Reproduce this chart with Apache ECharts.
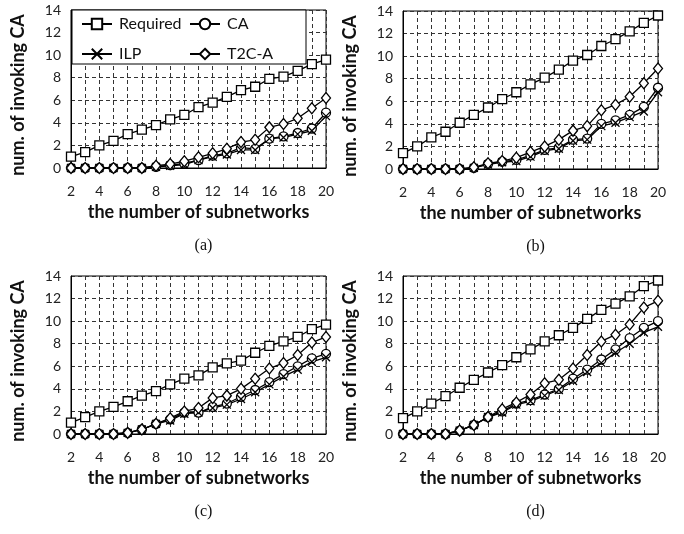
<!DOCTYPE html>
<html>
<head>
<meta charset="utf-8">
<title>num. of invoking CA</title>
<script src="https://cdn.jsdelivr.net/npm/echarts@6/dist/echarts.min.js"></script>
<style>
    html, body { margin: 0; padding: 0; background: #fff; }
    #chart { width: 684px; height: 534px; }
</style>
</head>
<body>
<div id="chart"></div>
<script>
// x: the number of subnetworks
const subnetworks = [2, 3, 4, 5, 6, 7, 8, 9, 10, 11, 12, 13, 14, 15, 16, 17, 18, 19, 20]
const yTicks = [0, 2, 4, 6, 8, 10, 12, 14]
const seriesNames = ['Required', 'CA', 'ILP', 'T2C-A']
const panelLabels = ['(a)', '(b)', '(c)', '(d)']

// (a)
const requiredA = [1.0, 1.4, 2.0, 2.4, 3.0, 3.4, 3.8, 4.3, 4.7, 5.4, 5.8, 6.3, 6.9, 7.2, 7.9, 8.1, 8.6, 9.2, 9.6]
const caA = [0, 0, 0, 0, 0, 0, 0.1, 0.25, 0.4, 0.7, 1.1, 1.3, 1.8, 1.7, 2.6, 2.8, 3.1, 3.5, 4.9]
const ilpA = [0, 0, 0, 0, 0, 0, 0.1, 0.2, 0.3, 0.7, 1.0, 1.2, 1.6, 1.6, 2.6, 2.7, 3.0, 3.3, 4.6]
const t2caA = [0, 0, 0, 0, 0, 0, 0.2, 0.35, 0.6, 0.95, 1.3, 1.7, 2.3, 2.5, 3.6, 3.9, 4.4, 5.3, 6.2]
// (b)
const requiredB = [1.4, 2.0, 2.8, 3.3, 4.1, 4.8, 5.45, 6.2, 6.8, 7.5, 8.1, 8.8, 9.6, 10.1, 10.9, 11.5, 12.2, 12.95, 13.6]
const caB = [0, 0, 0, 0, 0, 0.1, 0.45, 0.65, 0.8, 1.2, 1.7, 1.9, 2.6, 2.7, 4.0, 4.3, 4.8, 5.5, 7.2]
const ilpB = [0, 0, 0, 0, 0, 0.1, 0.4, 0.6, 0.7, 1.1, 1.6, 1.8, 2.5, 2.6, 3.8, 4.1, 4.6, 5.1, 6.8]
const t2caB = [0, 0, 0, 0, 0, 0.15, 0.5, 0.7, 1.0, 1.5, 2.0, 2.6, 3.4, 3.8, 5.2, 5.7, 6.4, 7.6, 8.9]
// (c)
const requiredC = [1.0, 1.5, 2.0, 2.4, 2.9, 3.4, 3.8, 4.4, 4.9, 5.2, 5.9, 6.25, 6.5, 7.2, 7.8, 8.2, 8.6, 9.3, 9.7]
const caC = [0, 0, 0, 0, 0.1, 0.4, 0.9, 1.3, 1.9, 1.9, 2.4, 2.7, 3.3, 3.9, 4.6, 5.3, 6.0, 6.7, 7.1]
const ilpC = [0, 0, 0, 0, 0.1, 0.4, 0.9, 1.2, 1.8, 1.9, 2.3, 2.6, 3.1, 3.7, 4.4, 5.1, 5.7, 6.4, 6.8]
const t2caC = [0, 0, 0, 0, 0.1, 0.4, 0.9, 1.4, 2.0, 2.3, 3.2, 3.4, 4.0, 4.9, 5.8, 6.3, 7.0, 8.1, 8.6]
// (d)
const requiredD = [1.4, 2.0, 2.7, 3.35, 4.1, 4.8, 5.45, 6.1, 6.8, 7.5, 8.2, 8.75, 9.4, 10.2, 11.0, 11.55, 12.2, 13.1, 13.6]
const caD = [0, 0, 0, 0, 0.3, 0.8, 1.5, 2.0, 2.7, 3.0, 3.5, 4.0, 4.9, 5.7, 6.6, 7.5, 8.5, 9.4, 10.0]
const ilpD = [0, 0, 0, 0, 0.3, 0.8, 1.5, 1.9, 2.6, 2.9, 3.4, 3.9, 4.7, 5.5, 6.3, 7.2, 8.0, 9.0, 9.5]
const t2caD = [0, 0, 0, 0, 0.3, 0.8, 1.5, 2.2, 2.8, 3.5, 4.5, 4.8, 5.8, 7.0, 8.2, 8.8, 9.7, 11.2, 11.8]

const panelData = [
    [requiredA, caA, ilpA, t2caA],
    [requiredB, caB, ilpB, t2caB],
    [requiredC, caC, ilpC, t2caC],
    [requiredD, caD, ilpD, t2caD]
]

const font = 'Lato, "Open Sans", sans-serif'
// plot boxes (left, top) of the four panels
const boxes = [
    { left: 71, top: 10 },
    { left: 403, top: 11 },
    { left: 71, top: 276 },
    { left: 403, top: 276 }
]
const boxW = 255
const boxH = 158

const symbols = [
    { symbol: 'rect', size: 9 },
    { symbol: 'circle', size: 9 },
    { symbol: 'path://M0,0L10,10M10,0L0,10', size: 8 },
    { symbol: 'diamond', size: [9, 11] }
]

const grid = [], xAxis = [], yAxis = [], series = [], title = []
boxes.forEach((b, i) => {
    grid.push({
        left: b.left, top: b.top, width: boxW, height: boxH,
        show: true, borderColor: '#000', borderWidth: 1, backgroundColor: '#fff'
    })
    xAxis.push({
        type: 'value', gridIndex: i, min: 2, max: 20, interval: 1,
        name: 'the number of subnetworks', nameLocation: 'middle', nameGap: 35,
        nameTextStyle: { fontFamily: font, fontSize: 18, fontWeight: 'bold', color: '#111' },
        axisLine: { lineStyle: { color: '#000', width: 1 } },
        axisTick: { show: false },
        axisLabel: {
            margin: 16, fontFamily: font, fontSize: 14, color: '#222',
            formatter: v => (v % 2 === 0 ? String(v) : '')
        },
        splitLine: { show: true, lineStyle: { color: '#333', type: [4, 3], width: 1 } }
    })
    yAxis.push({
        type: 'value', gridIndex: i, min: 0, max: 14, interval: 2,
        name: 'num. of invoking CA', nameLocation: 'middle', nameGap: 44,
        nameTextStyle: {
            fontFamily: font, fontSize: 18, fontWeight: 'bold', color: '#111',
            padding: [0, 12, 0, 0]
        },
        axisLine: { show: true, lineStyle: { color: '#000', width: 1 } },
        axisTick: { show: false },
        axisLabel: {
            margin: 10, fontFamily: font, fontSize: 14, color: '#222',
            formatter: v => (yTicks.indexOf(v) >= 0 ? String(v) : '')
        },
        splitLine: { show: true, lineStyle: { color: '#333', type: [4, 3], width: 1 } }
    })
    seriesNames.forEach((name, k) => {
        series.push({
            name: name, type: 'line', xAxisIndex: i, yAxisIndex: i,
            data: subnetworks.map((x, j) => [x, panelData[i][k][j]]),
            symbol: symbols[k].symbol, symbolSize: symbols[k].size,
            showAllSymbol: true, animation: false,
            lineStyle: { color: '#000', width: 1.3 },
            itemStyle: { color: '#fff', borderColor: '#000', borderWidth: 1.3 },
            emphasis: { disabled: true }
        })
    })
    title.push({
        text: panelLabels[i],
        left: b.left + boxW / 2, top: b.top + boxH + 65, textAlign: 'center',
        textStyle: { fontFamily: '"Liberation Serif", serif', fontSize: 16, fontWeight: 'normal', color: '#111' }
    })
})

const legendText = { fontFamily: font, fontSize: 16, color: '#111', padding: [0, 0, 0, 2] }

const option = {
    backgroundColor: '#fff',
    animation: false,
    title: title,
    grid: grid,
    xAxis: xAxis,
    yAxis: yAxis,
    // legend box in panel (a)
    graphic: [{
        type: 'rect', z: 6,
        shape: { x: 72, y: 10, width: 234, height: 54 },
        style: { fill: '#fff', stroke: '#000', lineWidth: 1 }
    }],
    legend: [
        {
            data: ['Required', 'ILP'], orient: 'vertical', left: 76, top: 11, z: 8,
            itemWidth: 30, itemHeight: 13, itemGap: 14, textStyle: legendText,
            selectedMode: false
        },
        {
            data: ['CA', 'T2C-A'], orient: 'vertical', left: 184, top: 11, z: 8,
            itemWidth: 30, itemHeight: 13, itemGap: 14, textStyle: legendText,
            selectedMode: false
        }
    ],
    series: series
}

window.onload = function () {
    const myChart = echarts.init(document.getElementById('chart'))
    myChart.setOption(option)
}
</script>
</body>
</html>
